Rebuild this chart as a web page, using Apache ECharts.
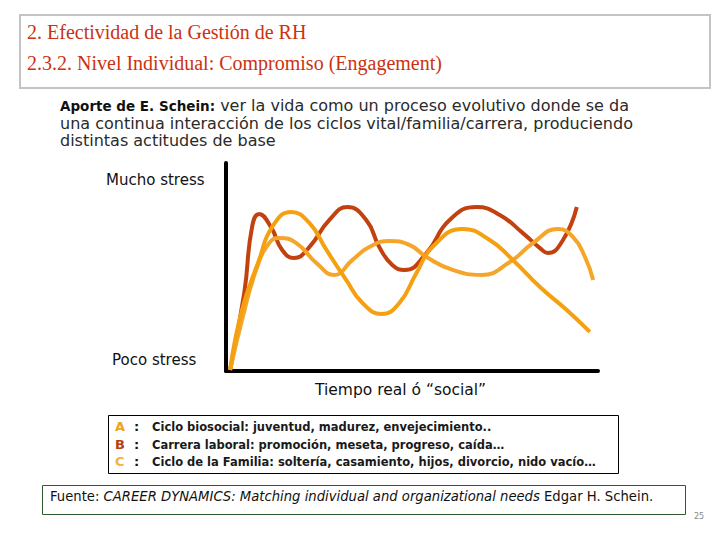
<!DOCTYPE html>
<html><head><meta charset="utf-8">
<script src="https://cdn.jsdelivr.net/npm/echarts@6/dist/echarts.min.js"></script>
<style>html,body{margin:0;padding:0;background:#fff}#c{width:720px;height:540px}</style>
</head><body><div id="c"></div>
<script>
// Curve B: Carrera laboral (red)
const curveB = [[1.1,0.5],[4.9,37.5],[7.0,69.2],[8.9,75.5],[12.1,69.2],[15.1,58.2],[18.3,54.3],[22.4,59.6],[27.8,72.6],[32.6,78.8],[37.7,72.6],[41.2,59.6],[44.7,51.0],[48.0,48.6],[53.9,56.7],[60.1,72.6],[67.4,78.8],[73.6,75.0],[79.8,66.3],[84.4,59.1],[86.5,56.7],[90.6,63.0],[94.3,78.8]];
// Curve A: Ciclo biosocial (orange)
const curveA = [[1.1,0.5],[4.3,29.3],[8.9,53.4],[12.4,69.2],[17.5,76.4],[22.4,71.2],[27.0,58.2],[32.3,43.8],[36.7,32.7],[41.8,27.4],[46.6,32.7],[51.2,47.1],[55.5,59.6],[63.6,68.3],[70.9,63.0],[77.1,53.4],[84.4,40.4],[91.6,29.3],[97.8,18.8]];
// Curve C: Ciclo de la Familia (light orange)
const curveC = [[1.1,0.5],[4.3,24.5],[8.1,48.6],[11.6,61.5],[14.3,63.9],[18.9,61.5],[24.3,51.9],[29.1,46.2],[34.0,53.4],[38.5,59.6],[43.9,62.5],[49.3,60.6],[53.9,54.8],[60.9,48.6],[68.7,46.2],[76.3,52.4],[82.5,61.5],[89.2,68.3],[93.3,64.4],[96.5,54.8],[98.7,43.8]];

const titleLines = ['2. Efectividad de la Gestión de RH', '2.3.2. Nivel Individual: Compromiso (Engagement)'];
const yLabels = ['Mucho stress', 'Poco stress'];
const xLabel = 'Tiempo real ó “social”';
const legendKeys = ['A', 'B', 'C'];
const legendTexts = ['Ciclo biosocial: juventud, madurez, envejecimiento..', 'Carrera laboral: promoción, meseta, progreso, caída…', 'Ciclo de la Familia: soltería, casamiento, hijos, divorcio, nido vacío…'];

const colA = '#F5A010', colB = '#C2410F', colC = '#F4A52A';
const keyCols = ['#E9A424', '#B8400F', '#F0B43C'];

const chart = echarts.init(document.getElementById('c'), null, {renderer: 'svg'});
const legendGraphics = [];
legendKeys.forEach((k, i) => {
  legendGraphics.push({type:'text', left:115, top:420 + i*17.5, style:{text:k, fill:keyCols[i], font:'bold 13px "DejaVu Sans"'}});
  legendGraphics.push({type:'text', left:134, top:420 + i*17.5, style:{text:':', fill:'#111', font:'bold 13px "DejaVu Sans"'}});
  legendGraphics.push({type:'text', left:152, top:421 + i*17.5, style:{text:legendTexts[i], fill:'#1a1a1a', font:'bold 11.5px "DejaVu Sans"'}});
});

chart.setOption({
  animation:false,
  grid:{left:226, right:122, top:163, bottom:169},
  xAxis:{type:'value', min:0, max:100, axisLine:{show:true, onZero:false, lineStyle:{color:'#000', width:4}}, axisTick:{show:false}, axisLabel:{show:false}, splitLine:{show:false}},
  yAxis:{type:'value', min:0, max:100, axisLine:{show:true, onZero:false, lineStyle:{color:'#000', width:4}}, axisTick:{show:false}, axisLabel:{show:false}, splitLine:{show:false}},
  series:[
    {type:'line', data:curveB, smooth:0.5, symbol:'none', lineStyle:{color:colB, width:4}, z:2},
    {type:'line', data:curveC, smooth:0.5, symbol:'none', lineStyle:{color:colC, width:4}, z:3},
    {type:'line', data:curveA, smooth:0.5, symbol:'none', lineStyle:{color:colA, width:4}, z:4}
  ],
  graphic:[
    {type:'rect', shape:{x:20, y:15, width:690, height:73}, style:{fill:'none', stroke:'#c4c4c4', lineWidth:2}},
    {type:'text', left:27, top:22, style:{text:titleLines[0], fill:'#CC3210', font:'20px "Liberation Serif"'}},
    {type:'text', left:27, top:53, style:{text:titleLines[1], fill:'#CC3210', font:'20px "Liberation Serif"'}},
    {type:'text', left:60, top:97, style:{
      text:'{b|Aporte de E. Schein:} ver la vida como un proceso evolutivo donde se da\nuna continua interacción de los ciclos vital/familia/carrera, produciendo\ndistintas actitudes de base',
      font:'16px "DejaVu Sans"', fill:'#2a2a2a', lineHeight:17.5,
      rich:{b:{fontWeight:'bold', fontSize:13.5, fontFamily:'DejaVu Sans', fill:'#111', lineHeight:17.5}}
    }},
    {type:'text', left:106, top:172, style:{text:yLabels[0], fill:'#111', font:'15px "DejaVu Sans"'}},
    {type:'text', left:112, top:352, style:{text:yLabels[1], fill:'#111', font:'15px "DejaVu Sans"'}},
    {type:'text', left:315, top:382, style:{text:xLabel, fill:'#111', font:'15.5px "DejaVu Sans"'}},
    {type:'rect', shape:{x:108.5, y:415.5, width:510, height:58}, style:{fill:'none', stroke:'#000', lineWidth:1}},
    ...legendGraphics,
    {type:'rect', shape:{x:42.5, y:485.5, width:643, height:29}, style:{fill:'none', stroke:'#2E5A2E', lineWidth:1}},
    {type:'text', left:50, top:490, style:{
      text:'Fuente: {i|CAREER DYNAMICS: Matching individual and organizational needs} Edgar H. Schein.',
      font:'13.2px "DejaVu Sans"', fill:'#111',
      rich:{i:{fontStyle:'italic', fontSize:13.2, fontFamily:'DejaVu Sans', fill:'#111'}}
    }},
    {type:'text', left:694, top:512, style:{text:'25', fill:'#888', font:'8px "DejaVu Sans"'}}
  ]
});
</script></body></html>
